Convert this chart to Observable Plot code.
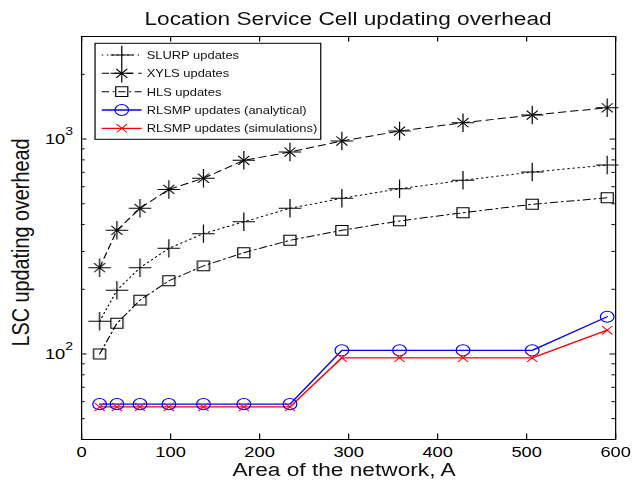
<!DOCTYPE html>
<html>
<head>
<meta charset="utf-8">
<script src="https://cdn.jsdelivr.net/npm/d3@7"></script>
<script src="https://cdn.jsdelivr.net/npm/@observablehq/plot@0.6"></script>
<style>
  html, body { margin: 0; padding: 0; background: #fff; }
  #wrap { width: 518px; height: 485px; transform: scale(1.22008, 1); transform-origin: 0 0; }
  svg { overflow: visible; }
</style>
</head>
<body>
<div id="wrap"></div>
<script>
// ---------- data ----------
const area = [20.25, 39.69, 65.61, 98.01, 136.89, 182.25, 234.09, 292.41, 357.21, 428.49, 506.25, 590.49];
const slurpUpdates = [142, 198, 252, 310, 363, 412, 476, 530, 587, 643, 702, 757];
const xylsUpdates = [252, 376, 476, 583, 657, 796, 870, 979, 1089, 1191, 1293, 1398];
const hlsUpdates = [100, 139, 178, 219, 257, 296, 338, 376, 416, 454, 497, 533];
const rlsmpAnalytical = [58.4, 58.4, 58.4, 58.4, 58.4, 58.4, 58.4, 104, 104, 104, 104, 149];
const rlsmpSimulations = [56.7, 56.7, 56.7, 56.7, 56.7, 56.7, 56.7, 96, 96, 96, 96, 129];
const seriesNames = ["SLURP updates", "XYLS updates", "HLS updates", "RLSMP updates (analytical)", "RLSMP updates (simulations)"];
const seriesValues = [slurpUpdates, xylsUpdates, hlsUpdates, rlsmpAnalytical, rlsmpSimulations];
const xTicks = [0, 100, 200, 300, 400, 500, 600];
const yMajorTicks = [100, 1000];
const yMinorTicks = [40, 50, 60, 70, 80, 90, 200, 300, 400, 500, 600, 700, 800, 900, 2000, 3000];
const titleText = "Location Service Cell updating overhead";
const xLabel = "Area of the network, A";
const yLabel = "LSC updating overhead";

// ---------- styles ----------
const styles = [
  {stroke: "#000", width: 1, dash: "1.2,3", marks: [{symbol: "plus", r: 6}]},
  {stroke: "#000", width: 1, dash: "6,4", marks: [{symbol: "plus", r: 6}, {symbol: "times", r: 4.2}]},
  {stroke: "#000", width: 1, dash: "6,3,1.5,3", marks: [{symbol: "square2", r: 6.3}]},
  {stroke: "#0000ff", width: 1.3, dash: null, marks: [{symbol: "circle", r: 5.6}]},
  {stroke: "#ff0000", width: 1.3, dash: null, marks: [{symbol: "times", r: 3.9}]}
];

const table = seriesNames.map((name, i) => area.map((a, j) => ({series: name, area: a, value: seriesValues[i][j]})));

const W = 518, H = 485, mL = 66.4, mR = 13.9, mT = 36, mB = 46;
const innerW = W - mL - mR, innerH = H - mT - mB;
const font = "'Liberation Sans', Arial, Helvetica, sans-serif";

const dataMarks = [];
table.forEach((rows, i) => {
  const s = styles[i];
  dataMarks.push(Plot.line(rows, {x: "area", y: "value", stroke: s.stroke, strokeWidth: s.width, strokeDasharray: s.dash}));
});
table.forEach((rows, i) => {
  const s = styles[i];
  s.marks.forEach(m => dataMarks.push(Plot.dot(rows, {x: "area", y: "value", symbol: m.symbol, r: m.r, stroke: s.stroke, fill: "none", strokeWidth: 1})));
});

const svg = Plot.plot({
  width: W, height: H,
  marginLeft: mL, marginRight: mR, marginTop: mT, marginBottom: mB,
  style: {fontFamily: font, fontSize: "15px", background: "#fff", color: "#000", overflow: "visible"},
  x: {domain: [0, 600]},
  y: {type: "log", domain: [40, 3000]},
  marks: [
    Plot.axisX({ticks: xTicks, tickSize: 0, tickPadding: 7, tickFormat: d => String(d), label: null}),
    Plot.axisY({ticks: yMajorTicks, tickSize: 0, tickPadding: 7, tickFormat: d => "10^" + Math.round(Math.log10(d)), label: null}),
    Plot.tickX(xTicks, {x: d => d, insetTop: innerH - 5.5, stroke: "#000"}),
    Plot.tickX(xTicks, {x: d => d, insetBottom: innerH - 5.5, stroke: "#000"}),
    Plot.tickY(yMajorTicks, {y: d => d, insetRight: innerW - 4.5, stroke: "#000"}),
    Plot.tickY(yMajorTicks, {y: d => d, insetLeft: innerW - 4.5, stroke: "#000"}),
    Plot.tickY(yMinorTicks, {y: d => d, insetRight: innerW - 3, stroke: "#000"}),
    Plot.tickY(yMinorTicks, {y: d => d, insetLeft: innerW - 3, stroke: "#000"}),
    ...dataMarks,
    Plot.frame({stroke: "#000", strokeWidth: 1})
  ]
});

const root = d3.select(svg);

// superscript exponents on y tick labels
root.selectAll('g[aria-label="y-axis tick label"] text').each(function () {
  const t = this.textContent;
  const parts = t.split("^");
  const sel = d3.select(this);
  sel.text(null);
  sel.append("tspan").text(parts[0]);
  sel.append("tspan").attr("dy", "-9px").attr("font-size", "11.5px").text(parts[1]);
});

// title and axis labels
root.append("text").attr("x", mL + innerW / 2).attr("y", 25).attr("text-anchor", "middle")
  .attr("font-family", font).attr("font-size", "18.6px").attr("fill", "#111").text(titleText);
root.append("text").attr("x", 282).attr("y", 476).attr("text-anchor", "middle")
  .attr("font-family", font).attr("font-size", "18.6px").attr("fill", "#111").text(xLabel);
root.append("text").attr("transform", "translate(23.5,242.5) rotate(-90)").attr("text-anchor", "middle")
  .attr("font-family", font).attr("font-size", "19.8px").attr("fill", "#111").text(yLabel);

// legend
const symbolMap = {plus: d3.symbolPlus, times: d3.symbolTimes, square2: d3.symbolSquare2, circle: d3.symbolCircle};
const lg = root.append("g").attr("aria-label", "legend");
lg.append("rect").attr("x", 77.9).attr("y", 43.3).attr("width", 185).attr("height", 96)
  .attr("fill", "#fff").attr("stroke", "#000").attr("stroke-width", 1);
seriesNames.forEach((name, i) => {
  const s = styles[i];
  const cy = 55 + i * 18.33;
  lg.append("line").attr("x1", 83.4).attr("x2", 116.1).attr("y1", cy).attr("y2", cy)
    .attr("stroke", s.stroke).attr("stroke-width", s.width).attr("stroke-dasharray", s.dash);
  s.marks.forEach(m => {
    lg.append("path").attr("transform", `translate(99.8,${cy})`)
      .attr("d", d3.symbol(symbolMap[m.symbol], Math.PI * m.r * m.r)())
      .attr("fill", "none").attr("stroke", s.stroke).attr("stroke-width", 1);
  });
  lg.append("text").attr("x", 120.2).attr("y", cy + 4).attr("text-anchor", "start")
    .attr("font-family", font).attr("font-size", "10.6px")
    .attr("fill", "#111").text(name);
});

document.getElementById("wrap").appendChild(svg);
</script>
</body>
</html>
